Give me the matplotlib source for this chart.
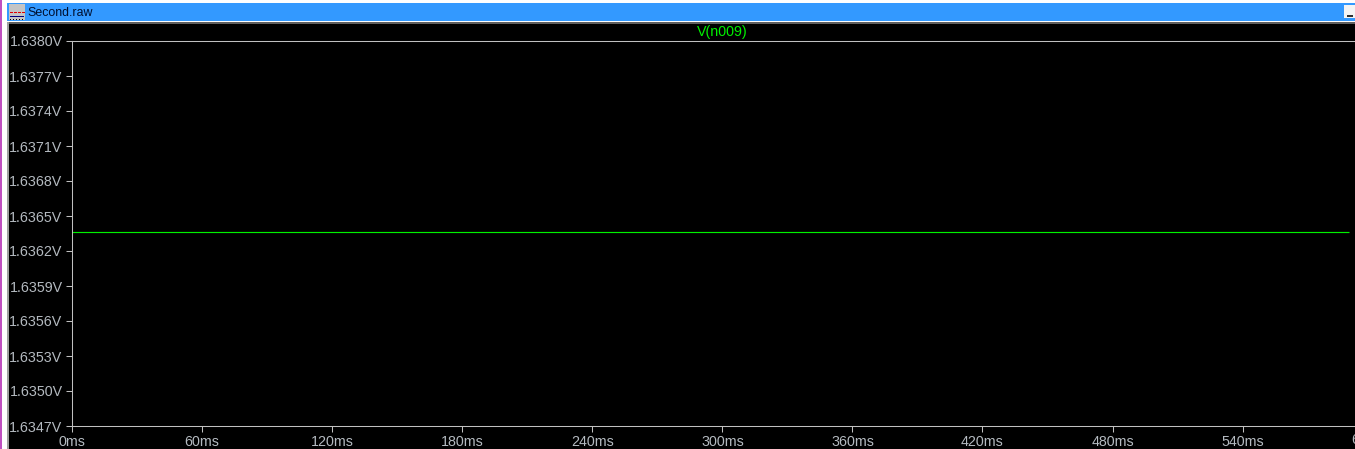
"""LTspice style waveform window: V(n009) against time."""

import matplotlib

matplotlib.use("Agg")
import matplotlib.pyplot as plt  # noqa: E402
from matplotlib.patches import Rectangle  # noqa: E402

W, H = 1355, 449
DPI = 100

trace_name = "V(n009)"
window_title = "Second.raw"
time_ms = [0, 589]
voltage = [1.63636, 1.63636]
x_ticks = [0, 60, 120, 180, 240, 300, 360, 420, 480, 540, 600]
x_tick_labels = ["0ms", "60ms", "120ms", "180ms", "240ms", "300ms", "360ms",
                 "420ms", "480ms", "540ms", "600ms"]
y_ticks = [1.6347, 1.6350, 1.6353, 1.6356, 1.6359, 1.6362, 1.6365, 1.6368,
           1.6371, 1.6374, 1.6377, 1.6380]
y_tick_labels = ["1.6347V", "1.6350V", "1.6353V", "1.6356V", "1.6359V", "1.6362V",
                 "1.6365V", "1.6368V", "1.6371V", "1.6374V", "1.6377V", "1.6380V"]

GREY = "#c0c0c0"
LABEL = "#b4bac0"
GREEN = "#00f000"
FONT = "Liberation Sans"
FONT_SIZE = 10.3


def px_rect(fig, x, y, w, h, color):
    """Window chrome rectangle, given in pixels from the top left."""
    fig.patches.append(Rectangle((x / W, 1 - (y + h) / H), w / W, h / H, color=color,
                                 lw=0, transform=fig.transFigure))


fig = plt.figure(figsize=(W / DPI, H / DPI), dpi=DPI, facecolor="black")

# window frame
px_rect(fig, 0, 0, W, 3, "#ffffff")
px_rect(fig, 0, 0, 2, H, "#c050c0")
px_rect(fig, 2, 0, 5, H, "#ffffff")
px_rect(fig, 7, 3, 2, H, "#a0a0a0")
px_rect(fig, 7, 3, W - 7, 18, "#3399ff")
px_rect(fig, 7, 21, W - 7, 1, "#ffffff")
px_rect(fig, 9, 22, W - 9, 2, "#606060")

# title bar icon and minimise button
px_rect(fig, 9, 4, 16, 16, "#c4c4c4")
for dash_x in (10, 14, 18, 22):
    px_rect(fig, dash_x, 12, 3, 1, "#e00000")
px_rect(fig, 10, 16, 14, 1, "#000080")
for dot_x in range(10, 25, 3):
    px_rect(fig, dot_x, 19, 1, 1, "#000000")
px_rect(fig, 1344, 5, 11, 13, "#f4f4f4")
px_rect(fig, 1347, 15, 6, 2, "#303030")
fig.text(27 / W, 1 - 13 / H, window_title, color="#001030", family=FONT,
         fontsize=8.9, ha="left", va="center")

ax = fig.add_axes([72 / W, 1 - 426 / H, (W - 72) / W, 385 / H], facecolor="black")
ax.plot(time_ms, voltage, color=GREEN, lw=0.85, solid_capstyle="butt")

ax.set_xlim(0, (W - 72) / 130.07 * 60)
ax.set_ylim(1.6347, 1.6380)
ax.set_xticks(x_ticks[:-1], x_tick_labels[:-1])
ax.set_yticks(y_ticks, y_tick_labels)
ax.tick_params(length=4.3, width=0.75, color=GREY, labelcolor=LABEL,
               labelsize=FONT_SIZE, pad=2.5)
for lab in ax.get_xticklabels() + ax.get_yticklabels():
    lab.set_family(FONT)

# the last tick sits past the window edge, only its first digit shows
ax.text(x_ticks[-1], -0.0365, x_tick_labels[-1], color=LABEL, family=FONT, fontsize=FONT_SIZE,
        ha="center", va="center", transform=ax.get_xaxis_transform(), clip_on=False)

ax.spines["right"].set_visible(False)
for side in ("left", "top", "bottom"):
    ax.spines[side].set_color(GREY)
    ax.spines[side].set_linewidth(0.75)

ax.text(300, 1.0236, trace_name, color=GREEN, family=FONT, fontsize=FONT_SIZE, ha="center",
        va="center", transform=ax.get_xaxis_transform())

fig.savefig("out.png", dpi=DPI, facecolor=fig.get_facecolor())
plt.close(fig)
